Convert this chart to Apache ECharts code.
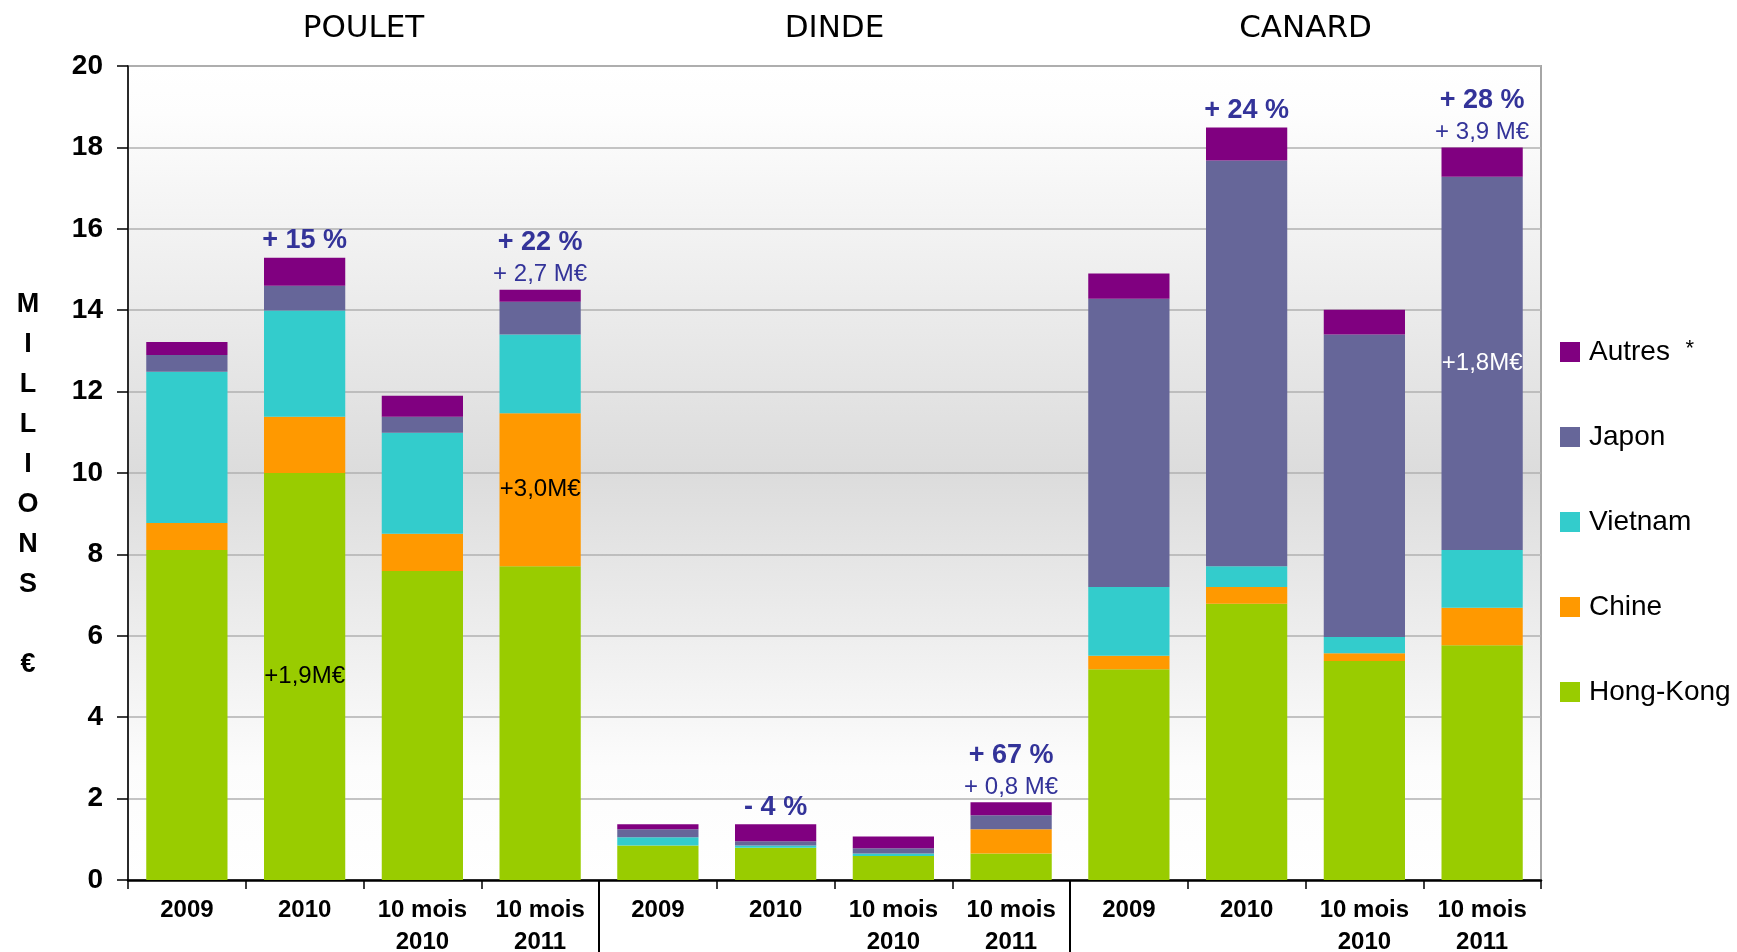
<!DOCTYPE html>
<html>
<head>
<meta charset="utf-8">
<script src="https://cdn.jsdelivr.net/npm/echarts@6/dist/echarts.min.js"></script>
<style>html,body{margin:0;padding:0;background:#fff;}#c{width:1737px;height:952px;}</style>
</head>
<body>
<div id="c"></div>
<script>
// ---- data ----
const categories = ['2009', '2010', '10 mois\n2010', '10 mois\n2011',
                    '2009', '2010', '10 mois\n2010', '10 mois\n2011',
                    '2009', '2010', '10 mois\n2010', '10 mois\n2011'];
const sections = ['POULET', 'DINDE', 'CANARD'];
const hongKong = [8.11, 10.0, 7.59, 7.71, 0.85, 0.79, 0.59, 0.65, 5.18, 6.79, 5.38, 5.77];
const chine    = [0.66, 1.38, 0.92, 3.76, 0.0, 0.0, 0.0, 0.60, 0.33, 0.41, 0.19, 0.92];
const vietnam  = [3.72, 2.61, 2.48, 1.93, 0.20, 0.06, 0.06, 0.0, 1.69, 0.51, 0.40, 1.42];
const japon    = [0.41, 0.61, 0.39, 0.81, 0.20, 0.10, 0.13, 0.34, 7.08, 9.97, 7.43, 9.17];
const autres   = [0.32, 0.69, 0.52, 0.29, 0.12, 0.42, 0.29, 0.32, 0.62, 0.81, 0.61, 0.72];
const pctLabels = ['', '+ 15 %', '', '+ 22 %', '', '- 4 %', '', '+ 67 %', '', '+ 24 %', '', '+ 28 %'];
const absLabels = ['', '', '', '+ 2,7 M€', '', '', '', '+ 0,8 M€', '', '', '', '+ 3,9 M€'];
const hkNotes    = ['', '+1,9M€', '', '', '', '', '', '', '', '', '', ''];
const chineNotes = ['', '', '', '+3,0M€', '', '', '', '', '', '', '', ''];
const japonNotes = ['', '', '', '', '', '', '', '', '', '', '', '+1,8M€'];
const yTitle = 'MILLIONS€';

// ---- layout ----
const W = 1737, H = 952;
const GL = 128, GR = 196, GT = 66, GB = 72;
const plotW = W - GL - GR;
const FONT = '"Liberation Sans", Arial, sans-serif';

const chart = echarts.init(document.getElementById('c'), null, {renderer: 'canvas'});

function innerLabel(notes, color) {
  return {
    show: true, position: 'inside', fontSize: 24, color: color, fontFamily: FONT,
    textBorderWidth: 0,
    formatter: p => notes[p.dataIndex] || ''
  };
}

const yLetters = yTitle.slice(0, 8).split('').join('\n') + '\n\n' + yTitle.slice(8);

const option = {
  animation: false,
  backgroundColor: '#fff',
  textStyle: {fontFamily: FONT},
  grid: {
    left: GL, right: GR, top: GT, bottom: GB,
    show: true,
    outerBoundsMode: 'none',
    containLabel: false,
    borderColor: '#a6a6a6', borderWidth: 2,
    backgroundColor: {
      type: 'linear', x: 0, y: 0, x2: 0, y2: 1,
      colorStops: [
        {offset: 0, color: '#ffffff'},
        {offset: 0.06, color: '#fdfdfd'},
        {offset: 0.5, color: '#dcdcdc'},
        {offset: 0.86, color: '#fcfcfc'},
        {offset: 1, color: '#ffffff'}
      ]
    }
  },
  legend: {
    orient: 'vertical', left: 1560, top: 338, padding: 0,
    itemWidth: 20, itemHeight: 20, itemGap: 57,
    icon: 'rect',
    data: ['Autres', 'Japon', 'Vietnam', 'Chine', 'Hong-Kong'],
    formatter: n => n === 'Autres' ? 'Autres  {s|*}' : n,
    textStyle: {
      fontSize: 28, color: '#000', fontFamily: FONT, lineHeight: 28, padding: [0, 0, 0, 4],
      rich: {s: {fontSize: 22, color: '#000', fontFamily: FONT, verticalAlign: 'top', padding: [0, 0, 6, 0]}}
    }
  },
  xAxis: [
    {
      type: 'category', data: categories, position: 'bottom',
      axisLine: {show: true, lineStyle: {color: '#000', width: 2.5}},
      axisTick: {show: true, length: 9, lineStyle: {color: '#000', width: 1.5}},
      axisLabel: {interval: 0, fontSize: 24, fontWeight: 'bold', color: '#000', lineHeight: 32, margin: 14, fontFamily: FONT},
      splitLine: {show: false}
    },
    {
      type: 'value', min: 0, max: 12, interval: 4, position: 'bottom',
      axisLine: {show: false},
      axisLabel: {show: false},
      axisTick: {show: true, customValues: [4, 8], length: 73, lineStyle: {color: '#000', width: 2}},
      splitLine: {show: true, showMinLine: false, showMaxLine: false, lineStyle: {color: '#000', width: 2}}
    }
  ],
  yAxis: {
    type: 'value', min: 0, max: 20, interval: 2,
    axisLine: {show: true, lineStyle: {color: '#000', width: 1.5}},
    axisTick: {show: true, length: 11, lineStyle: {color: '#000', width: 1.5}},
    axisLabel: {fontSize: 28, fontWeight: 'bold', color: '#000', margin: 25, fontFamily: FONT},
    splitLine: {show: true, lineStyle: {color: '#b0b0b0', width: 1.5}}
  },
  series: [
    {name: 'Hong-Kong', type: 'bar', stack: 't', barWidth: '69%', data: hongKong,
     itemStyle: {color: '#99CC00'}, label: innerLabel(hkNotes, '#000')},
    {name: 'Chine', type: 'bar', stack: 't', barWidth: '69%', data: chine,
     itemStyle: {color: '#FF9900'}, label: innerLabel(chineNotes, '#000')},
    {name: 'Vietnam', type: 'bar', stack: 't', barWidth: '69%', data: vietnam,
     itemStyle: {color: '#33CCCC'}},
    {name: 'Japon', type: 'bar', stack: 't', barWidth: '69%', data: japon,
     itemStyle: {color: '#666699'}, label: innerLabel(japonNotes, '#fff')},
    {name: 'Autres', type: 'bar', stack: 't', barWidth: '69%', data: autres,
     itemStyle: {color: '#800080'},
     label: {
       show: true, position: 'top', distance: 1, textBorderWidth: 0,
       formatter: p => {
         const a = pctLabels[p.dataIndex], b = absLabels[p.dataIndex];
         if (!a) return '';
         return b ? '{p|' + a + '}\n{m|' + b + '}' : '{s|' + a + '}';
       },
       rich: {
         p: {fontSize: 27, fontWeight: 'bold', color: '#333399', lineHeight: 36, fontFamily: FONT, align: 'center'},
         s: {fontSize: 27, fontWeight: 'bold', color: '#333399', lineHeight: 32, fontFamily: FONT, align: 'center'},
         m: {fontSize: 24, color: '#333399', lineHeight: 28, fontFamily: FONT, align: 'center'}
       }
     }}
  ],
  graphic: [
    ...sections.map((s, i) => ({
      type: 'text', x: GL + plotW * (4 * i + 2) / 12, y: 29,
      style: {text: s, font: '31px "DejaVu Sans", sans-serif', fill: '#000', align: 'center', verticalAlign: 'middle'}
    })),
    {
      type: 'text', x: 28, y: 285,
      style: {text: yLetters, font: 'bold 27px ' + FONT, fill: '#000', align: 'center', verticalAlign: 'top', lineHeight: 40}
    }
  ]
};
chart.setOption(option);
</script>
</body>
</html>
